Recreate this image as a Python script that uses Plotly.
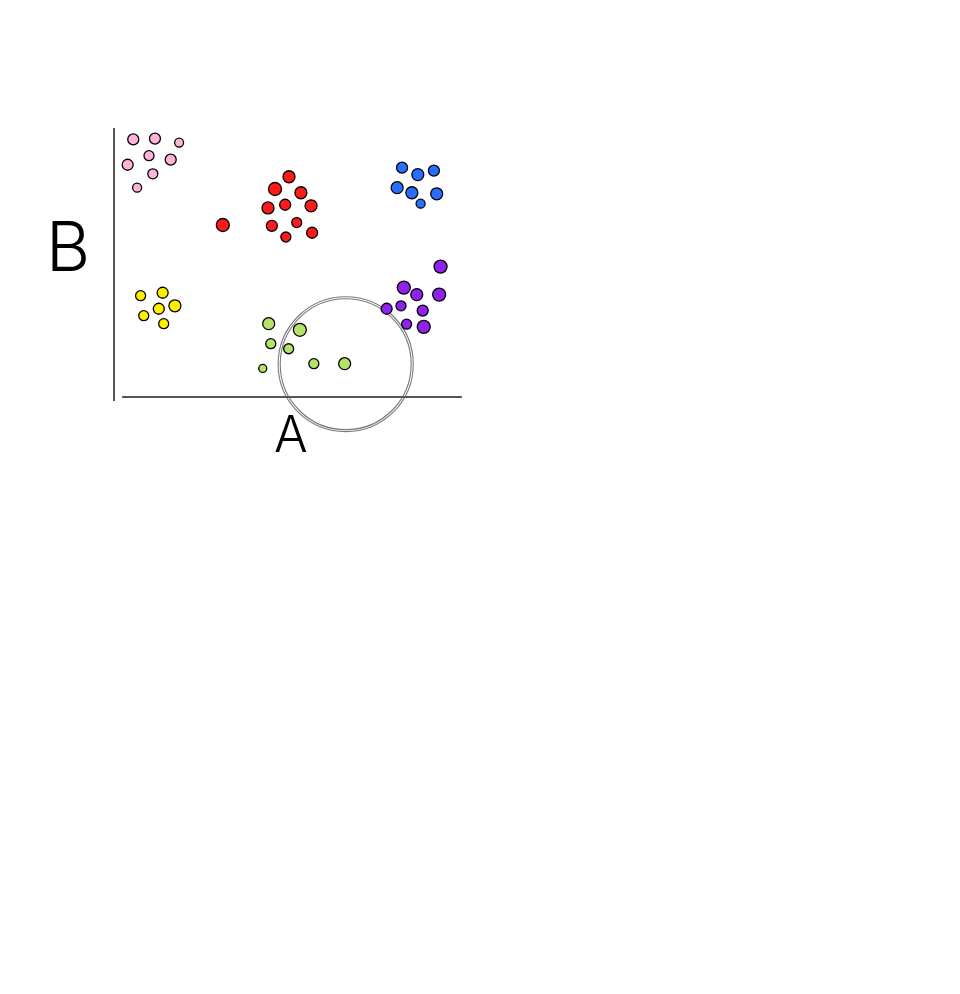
import plotly.graph_objects as go

# ---- data (A, B coordinates) ----
pink_a = [0.55, 1.17, 1.86, 1.00, 0.39, 1.62, 1.11, 0.66]
pink_b = [9.66, 9.69, 9.54, 9.05, 8.71, 8.90, 8.37, 7.85]
pink_s = [11, 11, 9, 10, 11, 11, 10, 9]

red_a = [3.11, 5.00, 4.60, 5.34, 4.40, 4.89, 5.63, 4.51, 5.22, 4.91, 5.66]
red_b = [6.45, 8.26, 7.80, 7.66, 7.09, 7.21, 7.17, 6.42, 6.54, 6.00, 6.16]
red_s = [13, 12, 13, 12, 12, 11, 12, 11, 10, 10, 11]

blue_a = [8.23, 8.68, 9.14, 8.09, 8.51, 9.22, 8.76]
blue_b = [8.60, 8.34, 8.49, 7.85, 7.66, 7.62, 7.25]
blue_s = [11, 12, 11, 12, 12, 12, 9]

yellow_a = [0.76, 1.39, 1.28, 1.74, 0.85, 1.42]
yellow_b = [3.80, 3.91, 3.31, 3.42, 3.05, 2.75]
yellow_s = [10, 11, 11, 12, 10, 10]

green_a = [4.42, 4.48, 4.25, 5.31, 4.99, 5.71, 6.59]
green_b = [2.75, 2.00, 1.07, 2.52, 1.81, 1.25, 1.25]
green_s = [12, 10, 8, 13, 10, 10, 12]

purple_a = [9.33, 8.28, 8.65, 9.29, 7.79, 8.20, 8.82, 8.36, 8.85]
purple_b = [4.89, 4.10, 3.84, 3.84, 3.31, 3.42, 3.24, 2.73, 2.63]
purple_s = [13, 13, 12, 13, 11, 10, 11, 10, 13]

groups = [
    ("pink", pink_a, pink_b, pink_s, "#FFB3D9"),
    ("red", red_a, red_b, red_s, "#FF1A1A"),
    ("blue", blue_a, blue_b, blue_s, "#2A6EFF"),
    ("yellow", yellow_a, yellow_b, yellow_s, "#FFEE00"),
    ("green", green_a, green_b, green_s, "#B5E36A"),
    ("purple", purple_a, purple_b, purple_s, "#8F22EE"),
]

fig = go.Figure()
for name, a, b, s, col in groups:
    fig.add_trace(go.Scatter(
        x=a, y=b, mode="markers", name=name,
        marker=dict(size=s, color=col, opacity=1,
                    line=dict(color="black", width=1.3)),
        hoverinfo="skip", showlegend=False))

# hand-drawn axes
fig.add_shape(type="line", x0=0, x1=0, y0=-0.15, y1=10.09,
              line=dict(color="#555555", width=2))
fig.add_shape(type="line", x0=0.23, x1=9.94, y0=0, y1=0,
              line=dict(color="#555555", width=2))

# double-line circle
cx, cy = 6.62, 1.23
for rx, ry in [(1.93, 2.53), (1.87, 2.455)]:
    fig.add_shape(type="circle", layer="below",
                  x0=cx - rx, x1=cx + rx, y0=cy - ry, y1=cy + ry,
                  line=dict(color="#7a7a7a", width=1.1))

fig.add_annotation(x=-1.31, y=5.66, text="B", showarrow=False,
                   font=dict(family="Inter", size=68, color="black", weight=300))
fig.add_annotation(x=5.06, y=-1.39, text="A", showarrow=False,
                   font=dict(family="Inter", size=50, color="black", weight=300))

fig.update_xaxes(range=[-3, 14], visible=False, showgrid=False, zeroline=False, fixedrange=True)
fig.update_yaxes(range=[-3, 12], visible=False, showgrid=False, zeroline=False, fixedrange=True)
fig.update_layout(width=960, height=994,
                  margin=dict(l=1, r=364, t=69, b=525, pad=0),
                  paper_bgcolor="white", plot_bgcolor="white")
fig.write_html("out.html")
